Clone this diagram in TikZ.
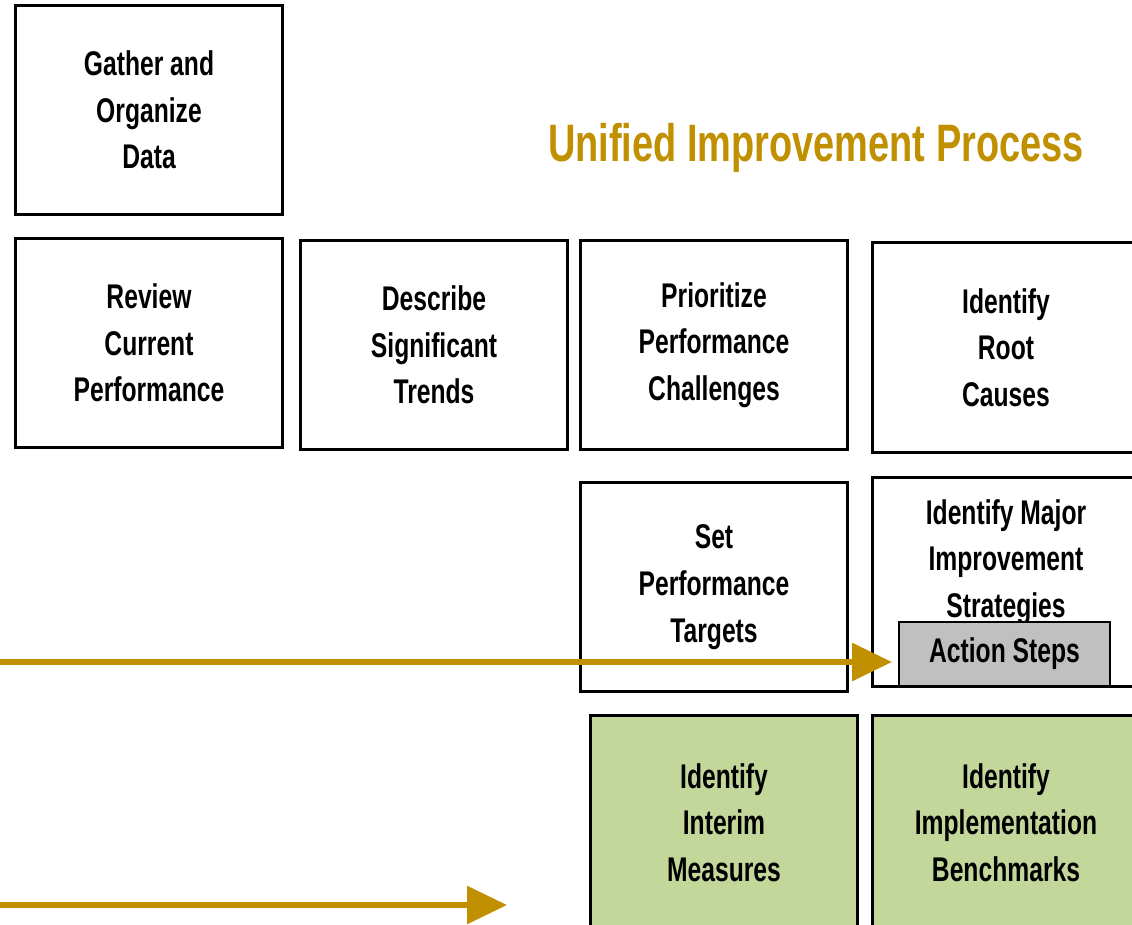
\documentclass[tikz,border=0pt]{standalone}
\usepackage{fontspec}
\newfontfamily\narrowfont{Liberation Sans}[FakeStretch=0.72]
\usetikzlibrary{arrows.meta}
\definecolor{uipgold}{RGB}{192,144,0}
\definecolor{uipgreen}{RGB}{196,215,155}
\definecolor{uipgray}{RGB}{192,192,192}
\tikzset{
  stepfont/.style={font=\narrowfont\bfseries\fontsize{19.5}{26.6}\selectfont},
  stepbox/.style={draw=black, line width=0.06cm, minimum width=5.36cm, minimum height=4.2cm,
    inner sep=0pt, align=center, stepfont},
  greenbox/.style={stepbox, fill=uipgreen, minimum height=4.3cm},
  actbox/.style={draw=black, line width=0.04cm, fill=uipgray, minimum width=4.22cm, minimum height=1.28cm,
    inner sep=0pt, stepfont},
  txt/.style={inner sep=0pt, align=center, stepfont},
  goldarrow/.style={draw=uipgold, line width=0.12cm, -{Triangle[length=0.8cm,width=0.74cm]}},
}
\begin{document}
\begin{tikzpicture}[x=0.02cm,y=-0.02cm]
\clip (0,0) rectangle (1132,924);
\fill[white] (0,0) rectangle (1132,924);
\node[stepbox] (gather) at (149,110) {Gather and\\Organize\\Data};
\node[stepbox] (review) at (149,343) {Review\\Current\\Performance};
\node[stepbox] (describe) at (434,345) {Describe\\Significant\\Trends};
\node[stepbox] (prioritize) at (714,345) {Prioritize\\Performance\\Challenges};
\node[stepbox] (root) at (1006,347.5) {Identify\\Root\\Causes};
\node[stepbox] (targets) at (714,587) {Set\\Performance\\Targets};
\node[stepbox] (major) at (1006,582) {};
\node[txt, anchor=north] (majortxt) at (1006,499) {Identify Major\\Improvement\\Strategies};
\node[actbox] (act) at (1004.5,654) {Action Steps};
\node[greenbox] (interim) at (724,822.5) {Identify\\Interim\\Measures};
\node[greenbox] (impl) at (1006,822.5) {Identify\\Implementation\\Benchmarks};
\node[anchor=base, inner sep=0pt, text=uipgold, font=\narrowfont\bfseries\fontsize{30}{34}\selectfont] (title) at (816,161) {Unified Improvement Process};
\coordinate (a1s) at (-5,662);
\coordinate (a2s) at (-5,905);
\coordinate (a2e) at (507,905);
\draw[goldarrow, shorten >=0.12cm] (a1s) -- (a1s -| act.west);
\draw[goldarrow] (a2s) -- (a2e);
\end{tikzpicture}
\end{document}
